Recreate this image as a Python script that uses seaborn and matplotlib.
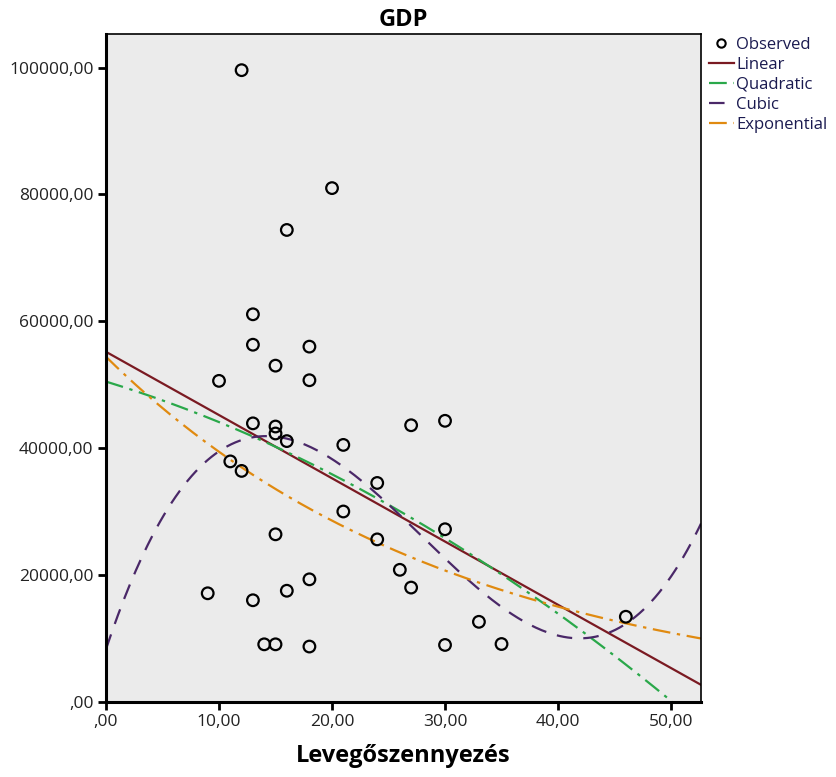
import numpy as np
import pandas as pd
import seaborn as sns
import matplotlib.pyplot as plt
from matplotlib.ticker import FuncFormatter
from matplotlib.lines import Line2D

pollution = [12, 20, 16, 13, 13, 18, 15, 10, 18,
             13, 15, 15, 16, 21, 27, 11, 12, 24, 21, 15, 24, 26, 27, 18, 16, 9, 13, 14, 15, 18,
             30, 30, 33, 30, 35, 46]
gdp = [99600, 81000, 74400, 61100, 56300, 56000, 53000, 50600, 50700,
       43900, 43400, 42300, 41100, 40500, 43600, 37900, 36400, 34500, 30000, 26400, 25600, 20800,
       18000, 19300, 17500, 17100, 16000, 9050, 9050, 8700,
       44300, 27200, 12600, 8950, 9100, 13400]

df = pd.DataFrame({"x": pollution, "y": gdp})

# curve estimation, like SPSS does
x = np.array(pollution, dtype=float)
y = np.array(gdp, dtype=float)
xs = np.linspace(0, 52.65, 300)
lin = np.polyval(np.polyfit(x, y, 1), xs)
quad = np.polyval(np.polyfit(x, y, 2), xs)
cub = np.polyval(np.polyfit(x, y, 3), xs)
b, lna = np.polyfit(x, np.log(y), 1)
expo = np.exp(lna) * np.exp(b * xs)

curves = pd.DataFrame({"x": xs, "Linear": lin, "Quadratic": quad, "Cubic": cub, "Exponential": expo})

plt.rcParams['font.family'] = ['Open Sans', 'DejaVu Sans']

fig = plt.figure(figsize=(8.36, 7.77), dpi=100)
ax = fig.add_axes([0.1268, 0.0969, 0.7117, 0.8593])
ax.set_facecolor('#ebebeb')

styles = {
    "Linear": dict(color='#7a1a22', linestyle='-', linewidth=1.6),
    "Quadratic": dict(color='#2aa84a', linestyle=(0, (8, 3, 1.5, 3)), linewidth=1.6),
    "Cubic": dict(color='#4a2868', linestyle=(0, (7, 5)), linewidth=1.6),
    "Exponential": dict(color='#e08a10', linestyle=(0, (8, 3, 1.5, 3)), linewidth=1.6),
}
for name, st in styles.items():
    sns.lineplot(data=curves, x="x", y=name, ax=ax, **st)

sns.scatterplot(data=df, x="x", y="y", ax=ax, marker='o', s=70,
                facecolor='none', edgecolor='black', linewidth=1.6, zorder=5)

ax.set_xlim(0, 52.65)
ax.set_ylim(0, 105300)
ax.set_xticks([0, 10, 20, 30, 40, 50])
ax.set_yticks([0, 20000, 40000, 60000, 80000, 100000])

def comma(v, pos):
    s = f"{v:.2f}".replace('.', ',')
    return s[1:] if s.startswith('0,') else s

ax.xaxis.set_major_formatter(FuncFormatter(comma))
ax.yaxis.set_major_formatter(FuncFormatter(comma))
ax.tick_params(axis='both', direction='out', length=6, width=2, labelsize=12.5, pad=3,
               labelcolor='#222222')

for side in ['left', 'bottom']:
    ax.spines[side].set_linewidth(2.2)
for side in ['top', 'right']:
    ax.spines[side].set_linewidth(1.2)

ax.set_xlabel("Levegőszennyezés", fontsize=17, fontweight='bold', labelpad=10)
ax.set_ylabel("")
ax.set_title("GDP", fontsize=17, fontweight='bold', pad=6)

handles = [Line2D([], [], marker='o', linestyle='none', markerfacecolor='none',
                  markeredgecolor='black', markersize=6, markeredgewidth=1.5)]
for name, st in styles.items():
    handles.append(Line2D([], [], **st))
leg = fig.legend(handles, ["Observed", "Linear", "Quadratic", "Cubic", "Exponential"],
                 loc='upper left', bbox_to_anchor=(0.848, 0.953), frameon=False,
                 fontsize=12, handlelength=1.5, handletextpad=0.15, labelspacing=0.25,
                 borderaxespad=0, borderpad=0)
for t in leg.get_texts():
    t.set_color('#1a1a50')

fig.savefig("out.png", dpi=100)
